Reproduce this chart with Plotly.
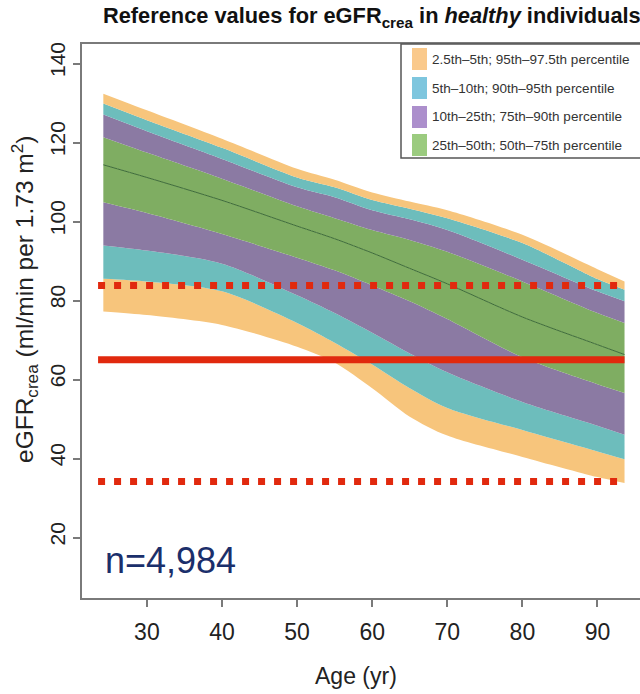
import plotly.graph_objects as go

# Age grid (years) and eGFR_crea percentile curves (ml/min per 1.73 m²)
age = [24.2, 30, 40, 50, 55, 60, 65, 70, 80, 90, 93.6]
p2_5 = [77.4, 76.5, 74.0, 68.5, 64.5, 58.0, 50.8, 46.0, 40.6, 35.5, 34.0]
p5 = [85.7, 85.0, 82.5, 74.5, 69.5, 64.0, 58.0, 53.0, 47.4, 42.0, 40.0]
p10 = [94.1, 92.8, 89.5, 81.5, 77.0, 72.0, 66.8, 62.0, 54.5, 48.5, 46.2]
p25 = [105.0, 102.3, 97.0, 91.0, 87.8, 84.0, 80.0, 75.5, 65.8, 59.0, 56.8]
p50 = [114.5, 111.3, 105.5, 99.0, 95.8, 92.2, 88.3, 84.4, 76.0, 69.0, 66.5]
p75 = [121.5, 117.6, 111.0, 104.0, 101.0, 98.0, 95.5, 92.5, 85.0, 77.0, 74.5]
p90 = [127.2, 123.0, 116.0, 108.8, 106.3, 103.0, 100.7, 98.0, 90.5, 82.5, 80.0]
p95 = [130.0, 125.8, 118.8, 111.3, 108.8, 105.6, 103.4, 101.0, 94.7, 85.6, 82.9]
p97_5 = [132.5, 128.3, 121.1, 113.5, 110.7, 107.5, 105.2, 103.0, 96.8, 88.1, 85.0]

# Horizontal eGFR marker levels
ref_solid = [65.2]
ref_dotted = [84.0, 34.4]
ref_span = [23.5, 93.6]

legend_labels = [
    "2.5th–5th; 95th–97.5th percentile",
    "5th–10th; 90th–95th percentile",
    "10th–25th; 75th–90th percentile",
    "25th–50th; 50th–75th percentile",
]

x_ticks = [30, 40, 50, 60, 70, 80, 90]
y_ticks = [20, 40, 60, 80, 100, 120, 140]

ORANGE = "#F7C57C"
TEAL = "#6DBDBC"
PURPLE = "#8B7AA3"
GREEN = "#7FAD62"
legend_colors = ["#FAC98B", "#7EC6DE", "#AC8FCC", "#9BCB7F"]
RED = "#E1290E"
AXIS = "#7a7a7a"
TXT = "#222222"
FONT = "Liberation Sans, Arial, Helvetica, sans-serif"

fig = go.Figure()

curves = [p2_5, p5, p10, p25, p50, p75, p90, p95, p97_5]
fills = [None, ORANGE, TEAL, PURPLE, GREEN, GREEN, PURPLE, TEAL, ORANGE]
for ys, fc in zip(curves, fills):
    fig.add_trace(go.Scatter(
        x=age, y=ys, mode="lines",
        line=dict(width=0, shape="spline", smoothing=0.8),
        fill="tonexty" if fc else None,
        fillcolor=fc,
        hoverinfo="skip", showlegend=False,
    ))

# median curve
fig.add_trace(go.Scatter(
    x=age, y=p50, mode="lines",
    line=dict(color="#3E6B3A", width=1, shape="spline", smoothing=0.8),
    hoverinfo="skip", showlegend=False,
))

for v in ref_dotted:
    fig.add_trace(go.Scatter(
        x=ref_span, y=[v, v], mode="lines",
        line=dict(color=RED, width=7, dash="7px,9px"),
        hoverinfo="skip", showlegend=False,
    ))
for v in ref_solid:
    fig.add_trace(go.Scatter(
        x=ref_span, y=[v, v], mode="lines",
        line=dict(color=RED, width=7),
        hoverinfo="skip", showlegend=False,
    ))

# layout geometry in pixels
L, T, B = 82, 44, 96
W, H = 640, 694
PW, PH = W - L, H - T - B


def px(xp):
    return (xp - L) / PW


def py(yp):
    return (H - B - yp) / PH


shapes = []
annotations = []

# legend box (top-right of plot region)
shapes.append(dict(type="rect", xref="paper", yref="paper",
                   x0=px(401), x1=px(650), y0=py(158), y1=py(44),
                   line=dict(color="#555555", width=1.5), fillcolor="white", layer="above"))
row_y = [59, 88, 117, 145]
for lab, col, yc in zip(legend_labels, legend_colors, row_y):
    shapes.append(dict(type="rect", xref="paper", yref="paper",
                       x0=px(412), x1=px(427), y0=py(yc + 11), y1=py(yc - 11),
                       line=dict(width=0), fillcolor=col, layer="above"))
    annotations.append(dict(text=lab, xref="paper", yref="paper",
                            x=px(430), y=py(yc), xanchor="left", yanchor="middle",
                            showarrow=False, font=dict(family=FONT, size=13.5, color="#333333")))

# y tick labels, written parallel to the axis
for v in y_ticks:
    annotations.append(dict(text=str(v), xref="paper", yref="y", x=px(57), y=v,
                            xanchor="center", yanchor="middle", textangle=-90, yshift=4,
                            showarrow=False, font=dict(family=FONT, size=21, color=TXT)))

# y axis title
annotations.append(dict(
    text="eGFR<sub>crea</sub> (ml/min per 1.73 m<sup>2</sup>)",
    xref="paper", yref="paper", x=px(24), y=py(300), xanchor="center", yanchor="middle",
    textangle=-90, showarrow=False, font=dict(family=FONT, size=24.5, color=TXT)))

# x axis title
annotations.append(dict(
    text="Age (yr)", xref="paper", yref="paper", x=px(356), y=py(676),
    xanchor="center", yanchor="middle", showarrow=False,
    font=dict(family=FONT, size=23, color=TXT)))

# title
annotations.append(dict(
    text="<b>Reference values for eGFR<sub>crea</sub> in <i>healthy</i> individuals</b>",
    xref="paper", yref="paper", x=px(372), y=py(1), xanchor="center", yanchor="top",
    showarrow=False, font=dict(family=FONT, size=21.8, color="#111111")))

# sample size
annotations.append(dict(
    text="n=4,984", xref="x", yref="y", x=24.2, y=14.3, xanchor="left", yanchor="middle",
    showarrow=False, font=dict(family=FONT, size=36, color="#1B2F6B")))

fig.update_layout(
    width=W, height=H,
    margin=dict(l=L, r=0, t=T, b=B),
    paper_bgcolor="white", plot_bgcolor="white",
    shapes=shapes, annotations=annotations,
    xaxis=dict(
        range=[21.36, 95.66], tickvals=x_ticks, ticks="outside", ticklen=7,
        tickcolor=AXIS, tickwidth=1.5, showline=True, linecolor=AXIS, linewidth=1.5,
        mirror=True, showgrid=False, zeroline=False, ticklabelstandoff=6,
        tickfont=dict(family=FONT, size=23, color=TXT),
    ),
    yaxis=dict(
        range=[4.92, 145.06], tickvals=y_ticks, ticks="outside", ticklen=7,
        tickcolor=AXIS, tickwidth=1.5, showline=True, linecolor=AXIS, linewidth=1.5,
        showgrid=False, zeroline=False, showticklabels=False,
    ),
)

fig.write_html("out.html")
